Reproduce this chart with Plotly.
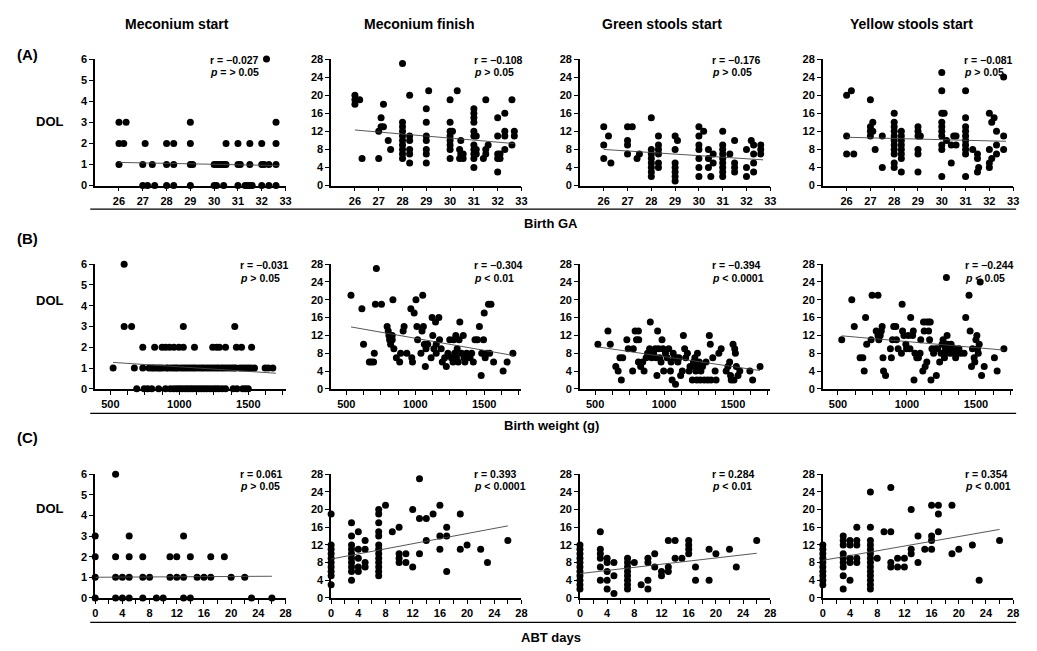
import plotly.graph_objects as go

W, H = 1037, 651

col_titles = ["Meconium start", "Meconium finish", "Green stools start", "Yellow stools start"]
row_letters = ["(A)", "(B)", "(C)"]
row_xtitles = ["Birth GA", "Birth weight (g)", "ABT days"]
y_title = "DOL"

# ---------------- Row A: Birth GA (weeks) vs DOL ----------------
a1_pts = [(26, 3), (26.3, 3), (29, 3), (32.6, 3),
          (26, 2), (26.2, 2), (27.1, 2), (28, 2), (28.3, 2), (29, 2), (30.5, 2), (31, 2), (31.5, 2), (32, 2), (32.6, 2),
          (26, 1), (27, 1), (27.4, 1), (28, 1), (28.3, 1), (29, 1), (29.1, 1), (30, 1), (30.1, 1), (30.2, 1), (30.3, 1),
          (30.4, 1), (30.45, 1), (30.5, 1), (31, 1), (31.1, 1), (31.5, 1), (32, 1), (32.1, 1), (32.3, 1), (32.6, 1),
          (27, 0), (27.2, 0), (27.5, 0), (28, 0), (28.3, 0), (29, 0), (30, 0), (30.1, 0), (30.4, 0), (31, 0), (31.3, 0),
          (31.4, 0), (31.5, 0), (31.6, 0), (32, 0), (32.3, 0), (32.6, 0),
          (32.2, 6)]
a2_pts = [(26, 20), (26, 19), (26, 18), (26.2, 19), (26.3, 6),
          (27, 6), (27, 12), (27.1, 13), (27.1, 15), (27.2, 18), (27.2, 13), (27.4, 10), (27.5, 8),
          (28, 27), (28, 14), (28, 13), (28, 12), (28, 11), (28, 10), (28, 9), (28, 8), (28, 7), (28, 6),
          (28.3, 20), (28.3, 11), (28.3, 10), (28.3, 8), (28.3, 7), (28.3, 5),
          (29, 17), (29, 14), (29, 11), (29, 10), (29, 8), (29, 7), (29, 5), (29.1, 21),
          (30, 19), (30, 14), (30, 12), (30, 11), (30, 10), (30, 9), (30, 8), (30, 6), (30.1, 12), (30.3, 21),
          (30.45, 10), (30.4, 8), (30.45, 7), (30.4, 6), (30.55, 7), (30.55, 6),
          (31, 17), (31, 16), (31, 15), (31, 14), (31, 12), (31, 11), (31, 9), (31, 8), (31, 7), (31, 6), (31, 4),
          (31.1, 11), (31.1, 8), (31.1, 7), (31.4, 6), (31.5, 19), (31.5, 8), (31.5, 7), (31.6, 9),
          (32, 15), (32, 11), (32, 7), (32, 6), (32, 3), (32.1, 7), (32.1, 6), (32.3, 16), (32.3, 12), (32.3, 11),
          (32.3, 8), (32.6, 19), (32.6, 9), (32.7, 11), (32.7, 12)]
a3_pts = [(26, 13), (26, 9), (26, 6), (26.2, 11), (26.3, 5),
          (27, 13), (27, 10), (27, 9), (27, 7), (27.2, 13), (27.4, 6), (27.5, 7),
          (28, 15), (28, 8), (28, 7), (28, 6), (28, 5), (28, 4), (28, 3), (28, 2),
          (28.3, 11), (28.3, 9), (28.3, 8), (28.3, 7), (28.3, 5), (28.3, 4),
          (29, 11), (29, 8), (29, 5), (29, 4), (29, 3), (29, 2), (29, 1), (29.1, 10),
          (30, 13), (30, 11), (30, 9), (30, 8), (30, 6), (30, 4), (30, 2), (30.2, 12), (30.4, 8), (30.4, 6),
          (30.4, 4), (30.5, 2), (30.6, 5), (30.6, 7),
          (31, 12), (31, 9), (31, 8), (31, 7), (31, 6), (31, 5), (31, 4), (31, 3), (31, 2), (31.3, 7),
          (31.5, 10), (31.5, 5), (31.5, 4), (31.5, 3),
          (32, 8), (32, 4), (32, 2), (32.2, 10), (32.3, 9), (32.3, 7), (32.3, 5), (32.3, 3),
          (32.6, 9), (32.6, 8), (32.6, 7)]
a4_pts = [(26, 20), (26, 11), (26, 7), (26.2, 21), (26.3, 7),
          (27, 19), (27, 13), (27, 12), (27, 11), (27.1, 14), (27.1, 12), (27.2, 8), (27.5, 11), (27.5, 4),
          (28, 16), (28, 14), (28, 13), (28, 12), (28, 11), (28, 10), (28, 9), (28, 8), (28, 7), (28, 5), (28, 4),
          (28.3, 12), (28.3, 11), (28.3, 10), (28.3, 9), (28.3, 8), (28.3, 7), (28.3, 6), (28.3, 3),
          (29, 13), (29, 12), (29, 11), (29, 8), (29, 7), (29, 3), (29.1, 11),
          (30, 25), (30, 21), (30, 16), (30, 14), (30, 13), (30, 12), (30, 11), (30, 9), (30, 8), (30, 2),
          (30.1, 16), (30.2, 10), (30.4, 9), (30.4, 5), (30.5, 11), (30.6, 11), (30.6, 9),
          (31, 21), (31, 15), (31, 13), (31, 12), (31, 11), (31, 10), (31, 9), (31, 8), (31, 7), (31, 2),
          (31.3, 8), (31.5, 7), (31.5, 6), (31.5, 3), (31.55, 4),
          (32, 16), (32, 8), (32, 5), (32, 4), (32.2, 15), (32.1, 14), (32.3, 12), (32.3, 9), (32.3, 7), (32.1, 6),
          (32.6, 11), (32.6, 8), (32.6, 24)]

# ---------------- Row B: Birth weight (g) vs DOL ----------------
b1_pts = [(600, 6), (600, 3), (654, 3), (1029, 3), (1402, 3),
          (735, 2), (821, 2), (875, 2), (900, 2), (929, 2), (961, 2), (997, 2), (1029, 2), (1110, 2), (1242, 2),
          (1270, 2), (1291, 2), (1335, 2), (1414, 2), (1451, 2), (1524, 2),
          (520, 1), (674, 1), (735, 1), (780, 1), (800, 1), (815, 1), (832, 1), (850, 1), (862, 1), (880, 1),
          (905, 1), (918, 1), (940, 1), (958, 1), (975, 1), (990, 1), (1012, 1), (1030, 1), (1048, 1), (1066, 1),
          (1085, 1), (1102, 1), (1118, 1), (1140, 1), (1160, 1), (1175, 1), (1195, 1), (1213, 1), (1232, 1),
          (1250, 1), (1268, 1), (1285, 1), (1305, 1), (1322, 1), (1340, 1), (1360, 1), (1378, 1), (1395, 1),
          (1410, 1), (1440, 1), (1460, 1), (1480, 1), (1500, 1), (1520, 1), (1545, 1), (1622, 1), (1645, 1), (1678, 1),
          (691, 0), (745, 0), (770, 0), (800, 0), (850, 0), (900, 0), (935, 0), (960, 0), (982, 0), (1000, 0),
          (1020, 0), (1042, 0), (1060, 0), (1080, 0), (1098, 0), (1120, 0), (1140, 0), (1160, 0), (1180, 0),
          (1200, 0), (1222, 0), (1245, 0), (1265, 0), (1285, 0), (1310, 0), (1335, 0), (1390, 0), (1418, 0),
          (1460, 0), (1480, 0), (1500, 0)]
b2_pts = [(534, 21), (613, 18), (625, 10), (667, 6), (681, 6), (698, 6), (703, 8), (718, 27), (711, 19), (755, 19),
          (796, 14), (804, 13), (809, 12), (814, 11), (821, 10), (833, 12), (833, 11), (838, 20), (845, 9), (863, 7),
          (887, 6), (894, 8), (912, 13), (919, 14), (939, 8), (968, 18), (975, 7), (980, 6), (992, 17), (1005, 20),
          (1012, 14), (1017, 11), (1041, 8), (1049, 13), (1054, 21), (1059, 14), (1066, 10), (1073, 5), (1078, 9),
          (1090, 10), (1122, 16), (1147, 15), (1171, 16), (1127, 12), (1152, 10), (1176, 11), (1115, 7), (1135, 9),
          (1152, 8), (1188, 9), (1196, 6), (1213, 7), (1225, 5), (1237, 8), (1250, 11), (1262, 7), (1274, 6),
          (1279, 11), (1286, 8), (1294, 12), (1299, 7), (1304, 9), (1311, 6), (1318, 11), (1323, 15), (1335, 8),
          (1348, 12), (1353, 7), (1360, 6), (1372, 8), (1397, 7), (1409, 8), (1421, 6), (1433, 11), (1451, 11),
          (1465, 14), (1478, 3), (1482, 8), (1495, 11), (1500, 17), (1507, 7), (1519, 8), (1531, 19), (1549, 19),
          (1539, 8), (1568, 6), (1637, 4), (1666, 6), (1708, 8)]
b3_pts = [(520, 10), (593, 13), (610, 10), (650, 5), (667, 4), (680, 7), (690, 2), (700, 7), (730, 11), (740, 9),
          (772, 4), (777, 9), (790, 13), (800, 11), (814, 13), (816, 11), (814, 6), (830, 5), (845, 6), (855, 4),
          (870, 7), (880, 8), (895, 9), (900, 15), (910, 7), (924, 8), (936, 9), (943, 7), (948, 3), (953, 13),
          (960, 9), (968, 7), (978, 6), (985, 11), (992, 9), (997, 4), (1010, 8), (1022, 7), (1034, 9), (1046, 4),
          (1051, 6), (1058, 2), (1066, 8), (1075, 7), (1083, 1), (1090, 7), (1100, 6), (1108, 7), (1120, 3),
          (1132, 4), (1140, 12), (1149, 9), (1157, 7), (1169, 8), (1181, 4), (1188, 5), (1205, 2), (1213, 6),
          (1218, 5), (1223, 7), (1230, 4), (1237, 2), (1242, 8), (1247, 5), (1255, 6), (1262, 2), (1267, 4),
          (1279, 5), (1291, 2), (1304, 6), (1316, 2), (1328, 12), (1335, 10), (1340, 2), (1353, 7), (1370, 4),
          (1377, 2), (1397, 8), (1414, 9), (1450, 4), (1463, 5), (1475, 6), (1482, 3), (1487, 2), (1500, 10),
          (1507, 2), (1512, 9), (1517, 8), (1524, 5), (1536, 3), (1549, 4), (1622, 4), (1642, 2), (1696, 5)]
b4_pts = [(527, 11), (600, 20), (618, 14), (660, 7), (680, 7), (690, 4), (700, 16), (708, 10), (740, 11), (747, 21),
          (790, 21), (777, 13), (790, 12), (796, 11), (806, 12), (814, 13), (820, 14), (826, 7), (830, 4), (845, 3),
          (880, 9), (887, 7), (895, 11), (904, 14), (919, 14), (924, 11), (936, 9), (960, 8), (965, 19), (968, 13),
          (978, 12), (992, 10), (997, 9), (1010, 12), (1022, 9), (1027, 16), (1041, 12), (1046, 13), (1051, 2),
          (1058, 8), (1071, 7), (1083, 7), (1095, 8), (1100, 11), (1115, 4), (1120, 15), (1125, 13), (1132, 5),
          (1140, 15), (1144, 6), (1157, 15), (1157, 13), (1164, 11), (1169, 15), (1174, 2), (1181, 9), (1193, 8),
          (1205, 9), (1213, 3), (1223, 9), (1237, 6), (1247, 8), (1255, 10), (1262, 11), (1267, 8), (1272, 7),
          (1279, 9), (1286, 25), (1291, 12), (1296, 10), (1304, 9), (1311, 8), (1320, 10), (1328, 9), (1335, 8),
          (1345, 9), (1353, 7), (1365, 8), (1377, 9), (1389, 8), (1414, 8), (1426, 16), (1450, 21), (1458, 13),
          (1468, 5), (1475, 9), (1487, 7), (1492, 6), (1500, 11), (1507, 12), (1512, 9), (1517, 8), (1524, 10),
          (1531, 24), (1541, 3), (1560, 5), (1634, 7), (1654, 4), (1703, 9)]

# ---------------- Row C: ABT days vs DOL (DOL values grouped by ABT day) ----------------
c1_groups = {0: [3, 2, 1, 0], 3: [6, 2, 1, 0], 4: [1, 0], 5: [3, 2, 1, 0], 7: [2, 1, 0], 8: [1], 9: [0],
             10: [0], 11: [2, 1], 12: [2, 1], 13: [3, 1, 0], 14: [2, 0], 15: [1], 16: [1], 17: [2, 1],
             19: [2], 20: [1], 22: [1], 23: [0], 26: [0]}
c2_groups = {0: [19, 12, 11, 10, 9, 8, 7, 6, 5, 3], 3: [17, 14, 12, 11, 10, 9, 8, 7, 6, 4],
             4: [15, 11, 9, 7, 6], 5: [13, 11, 8, 7], 7: [20, 19, 17, 15, 14, 12, 11, 10, 9, 8, 7, 6, 5],
             8: [21], 9: [15], 10: [16, 10, 9, 8], 11: [10, 8], 12: [20, 7], 13: [27, 18, 10], 14: [18, 13],
             15: [19], 16: [21, 14, 11], 17: [16, 14, 6], 19: [19, 11], 20: [12], 22: [11], 23: [8], 26: [13]}
c3_groups = {0: [12, 11, 10, 9, 8, 7, 6, 5, 4, 3, 2], 3: [15, 11, 10, 9, 7, 4], 4: [9, 8, 6, 4, 2],
             5: [8, 5, 1], 7: [9, 8, 7, 6, 5, 4, 3, 2], 8: [8], 9: [3], 10: [9, 8, 4, 2], 11: [10, 7],
             12: [6, 5], 13: [13, 7, 6], 14: [13, 9], 15: [9], 16: [13, 12, 11, 10], 17: [7, 4],
             19: [11, 4], 20: [10], 22: [11], 23: [7], 26: [13]}
c4_groups = {0: [12, 11, 10, 9, 8, 7, 6, 5, 4, 3], 3: [14, 13, 12, 10, 9, 8, 7, 5, 2],
             4: [13, 12, 9, 8, 4], 5: [16, 13, 12, 9, 8],
             7: [24, 16, 13, 12, 11, 10, 9, 8, 7, 6, 5, 4, 3, 2], 8: [9], 9: [15], 10: [25, 15, 8, 7],
             11: [9, 7], 12: [9, 7], 13: [20, 11, 10], 14: [14, 8], 15: [11], 16: [21, 14, 13, 11],
             17: [21, 19, 15], 19: [21, 10], 20: [11], 22: [12], 23: [4], 26: [13]}

# ---------------- Linear-regression line end points ----------------
fit_x = [[[26, 32.7], [26, 32.7], [26, 32.7], [26, 32.7]],
         [[520, 1700], [534, 1708], [520, 1696], [527, 1703]],
         [[0, 26], [0, 26], [0, 26], [0, 26]]]
fit_y = [[[1.1, 0.95], [12.3, 9.3], [8.0, 5.7], [10.7, 9.8]],
         [[1.27, 0.75], [13.9, 7.5], [9.4, 4.1], [11.9, 8.7]],
         [[1.0, 1.05], [8.8, 16.3], [5.5, 10.1], [8.5, 15.5]]]

r_texts = [["r = \u22120.027", "r = \u22120.108", "r = \u22120.176", "r = \u22120.081"],
           ["r = \u22120.031", "r = \u22120.304", "r = \u22120.394", "r = \u22120.244"],
           ["r = 0.061", "r = 0.393", "r = 0.284", "r = 0.354"]]
p_texts = [["= &gt; 0.05", "&gt; 0.05", "&gt; 0.05", "&gt; 0.05"],
           ["&gt; 0.05", "&lt; 0.01", "&lt; 0.0001", "&lt; 0.05"],
           ["&gt; 0.05", "&lt; 0.0001", "&lt; 0.01", "&lt; 0.001"]]


def unzip(pts):
    return [p[0] for p in pts], [p[1] for p in pts]


def expand(groups):
    xs, ys = [], []
    for k, vals in groups.items():
        for v in vals:
            xs.append(k)
            ys.append(v)
    return xs, ys


panel_data = [[unzip(a1_pts), unzip(a2_pts), unzip(a3_pts), unzip(a4_pts)],
              [unzip(b1_pts), unzip(b2_pts), unzip(b3_pts), unzip(b4_pts)],
              [expand(c1_groups), expand(c2_groups), expand(c3_groups), expand(c4_groups)]]

# ---------------- Layout geometry (pixels) ----------------
col_px = [(93, 285), (331, 523), (582, 774), (827, 1019)]
row_py = [(54, 183), (263, 390), (477, 603)]
x_ranges = [[25, 33], [390, 1770], [0, 28]]
text_left = [[207, 473, 713, 967], [237, 473, 713, 968], [237, 473, 713, 968]]
r_py = [55, 264, 477]
p_py = [67, 277, 489]
title_px = [176, 420, 665, 916]
row_letter_py = [49, 237, 440]
dol_py = [118, 300, 512]
sep_py = [207, 415, 628]
xtitle_py = [222, 427, 643]


def px2x(px):
    return px / W


def py2y(py):
    return 1 - py / H


FONT = "Arial, 'Liberation Sans', Helvetica, sans-serif"
fig = go.Figure()
layout = dict(width=W, height=H, margin=dict(l=0, r=0, t=0, b=0), showlegend=False,
              paper_bgcolor="white", plot_bgcolor="white",
              font=dict(family=FONT, color="black", size=11))
annotations = []
shapes = []

for r in range(3):
    for c in range(4):
        idx = r * 4 + c + 1
        xa = "x" if idx == 1 else f"x{idx}"
        ya = "y" if idx == 1 else f"y{idx}"
        xs, ys = panel_data[r][c]
        fig.add_trace(go.Scatter(x=xs, y=ys, mode="markers", xaxis=xa, yaxis=ya,
                                 marker=dict(color="black", size=7, line=dict(width=0)),
                                 cliponaxis=False, hoverinfo="x+y"))
        fig.add_trace(go.Scatter(x=fit_x[r][c], y=fit_y[r][c], mode="lines", xaxis=xa, yaxis=ya,
                                 line=dict(color="#444444", width=0.9), hoverinfo="skip"))
        x0, x1 = col_px[c]
        y0, y1 = row_py[r]
        xaxis = dict(domain=[px2x(x0), px2x(x1)], anchor=ya, range=x_ranges[r],
                     showline=True, linecolor="black", linewidth=1.5, mirror=False,
                     ticks="outside", ticklen=4, tickwidth=1.3, tickcolor="black",
                     showgrid=False, zeroline=False, fixedrange=True,
                     tickfont=dict(family=FONT, size=11, color="black", weight="bold"))
        if r == 0:
            xaxis.update(tickmode="array", tickvals=[26, 27, 28, 29, 30, 31, 32, 33])
        elif r == 1:
            xaxis.update(tick0=500, dtick=500,
                         minor=dict(tick0=500, dtick=125, ticks="outside", ticklen=4,
                                    tickwidth=1.3, tickcolor="black", showgrid=False))
        else:
            xaxis.update(tick0=0, dtick=4,
                         minor=dict(tick0=0, dtick=2, ticks="outside", ticklen=4,
                                    tickwidth=1.3, tickcolor="black", showgrid=False))
        yaxis = dict(domain=[py2y(y1), py2y(y0)], anchor=xa,
                     range=[0, 6] if c == 0 else [0, 28], dtick=1 if c == 0 else 4, tick0=0,
                     showline=True, linecolor="black", linewidth=1.5,
                     ticks="outside", ticklen=4, tickwidth=1.3, tickcolor="black",
                     showgrid=False, zeroline=False, fixedrange=True,
                     tickfont=dict(family=FONT, size=11, color="black", weight="bold"))
        layout["xaxis" if idx == 1 else f"xaxis{idx}"] = xaxis
        layout["yaxis" if idx == 1 else f"yaxis{idx}"] = yaxis

        annotations.append(dict(xref="paper", yref="paper", x=px2x(text_left[r][c]), y=py2y(r_py[r]),
                                xanchor="left", yanchor="middle", showarrow=False,
                                text=f"<b>{r_texts[r][c]}</b>",
                                font=dict(family=FONT, size=10.5, color="black")))
        annotations.append(dict(xref="paper", yref="paper", x=px2x(text_left[r][c]), y=py2y(p_py[r]),
                                xanchor="left", yanchor="middle", showarrow=False,
                                text=f"<b><i>p</i> {p_texts[r][c]}</b>",
                                font=dict(family=FONT, size=10.5, color="black")))

for c in range(4):
    annotations.append(dict(xref="paper", yref="paper", x=px2x(title_px[c]), y=py2y(18),
                            xanchor="center", yanchor="middle", showarrow=False,
                            text=f"<b>{col_titles[c]}</b>",
                            font=dict(family=FONT, size=14, color="black")))

for r in range(3):
    annotations.append(dict(xref="paper", yref="paper", x=px2x(12), y=py2y(row_letter_py[r]),
                            xanchor="left", yanchor="middle", showarrow=False,
                            text=f"<b>{row_letters[r]}</b>",
                            font=dict(family=FONT, size=15, color="black")))
    annotations.append(dict(xref="paper", yref="paper", x=px2x(47), y=py2y(dol_py[r]),
                            xanchor="center", yanchor="middle", showarrow=False,
                            text=f"<b>{y_title}</b>",
                            font=dict(family=FONT, size=13, color="black")))
    annotations.append(dict(xref="paper", yref="paper", x=px2x(553), y=py2y(xtitle_py[r]),
                            xanchor="center", yanchor="middle", showarrow=False,
                            text=f"<b>{row_xtitles[r]}</b>",
                            font=dict(family=FONT, size=13, color="black")))
    shapes.append(dict(type="line", xref="paper", yref="paper",
                       x0=px2x(88), x1=px2x(1022), y0=py2y(sep_py[r]), y1=py2y(sep_py[r]),
                       line=dict(color="black", width=1.3)))

layout["annotations"] = annotations
layout["shapes"] = shapes
fig.update_layout(**layout)

post = ("document.documentElement.style.margin='0';document.documentElement.style.overflow='hidden';"
        "document.body.style.margin='0';document.body.style.padding='0';document.body.style.overflow='hidden';"
        "var gd=document.getElementById('{plot_id}');gd.style.position='fixed';gd.style.left='0px';gd.style.top='0px';")
fig.write_html("out.html", include_plotlyjs=True, config={"displayModeBar": False}, post_script=post)
